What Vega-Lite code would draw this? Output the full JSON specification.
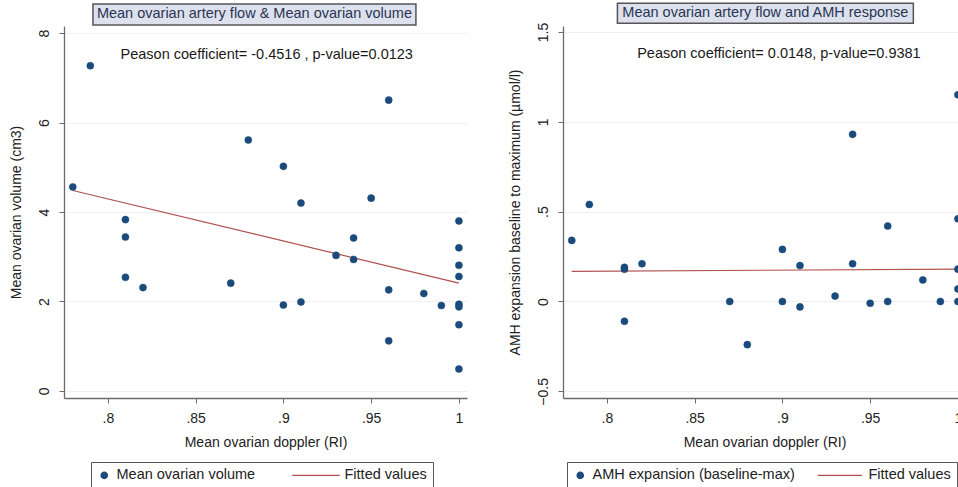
{
  "$schema": "https://vega.github.io/schema/vega-lite/v6.json",
  "background": "white",
  "padding": {"left": 9, "top": 2, "right": 0, "bottom": 0},
  "spacing": 41,
  "datasets": {
    "vol": [
      {"doppler": 0.78, "value": 4.56, "series": "Mean ovarian volume"},
      {"doppler": 0.79, "value": 7.27, "series": "Mean ovarian volume"},
      {"doppler": 0.81, "value": 3.83, "series": "Mean ovarian volume"},
      {"doppler": 0.81, "value": 3.44, "series": "Mean ovarian volume"},
      {"doppler": 0.81, "value": 2.54, "series": "Mean ovarian volume"},
      {"doppler": 0.82, "value": 2.31, "series": "Mean ovarian volume"},
      {"doppler": 0.87, "value": 2.41, "series": "Mean ovarian volume"},
      {"doppler": 0.88, "value": 5.61, "series": "Mean ovarian volume"},
      {"doppler": 0.90, "value": 5.02, "series": "Mean ovarian volume"},
      {"doppler": 0.90, "value": 1.92, "series": "Mean ovarian volume"},
      {"doppler": 0.91, "value": 4.20, "series": "Mean ovarian volume"},
      {"doppler": 0.91, "value": 1.99, "series": "Mean ovarian volume"},
      {"doppler": 0.93, "value": 3.03, "series": "Mean ovarian volume"},
      {"doppler": 0.94, "value": 3.42, "series": "Mean ovarian volume"},
      {"doppler": 0.94, "value": 2.94, "series": "Mean ovarian volume"},
      {"doppler": 0.95, "value": 4.31, "series": "Mean ovarian volume"},
      {"doppler": 0.96, "value": 6.50, "series": "Mean ovarian volume"},
      {"doppler": 0.96, "value": 2.26, "series": "Mean ovarian volume"},
      {"doppler": 0.96, "value": 1.12, "series": "Mean ovarian volume"},
      {"doppler": 0.98, "value": 2.18, "series": "Mean ovarian volume"},
      {"doppler": 0.99, "value": 1.91, "series": "Mean ovarian volume"},
      {"doppler": 1.00, "value": 3.80, "series": "Mean ovarian volume"},
      {"doppler": 1.00, "value": 3.20, "series": "Mean ovarian volume"},
      {"doppler": 1.00, "value": 2.81, "series": "Mean ovarian volume"},
      {"doppler": 1.00, "value": 2.56, "series": "Mean ovarian volume"},
      {"doppler": 1.00, "value": 1.94, "series": "Mean ovarian volume"},
      {"doppler": 1.00, "value": 1.88, "series": "Mean ovarian volume"},
      {"doppler": 1.00, "value": 1.48, "series": "Mean ovarian volume"},
      {"doppler": 1.00, "value": 0.49, "series": "Mean ovarian volume"}
    ],
    "volfit": [
      {"doppler": 0.78, "value": 4.48, "series": "Fitted values"},
      {"doppler": 1.00, "value": 2.41, "series": "Fitted values"}
    ],
    "amh": [
      {"doppler": 0.78, "value": 0.34, "series": "AMH expansion (baseline-max)"},
      {"doppler": 0.79, "value": 0.54, "series": "AMH expansion (baseline-max)"},
      {"doppler": 0.81, "value": 0.19, "series": "AMH expansion (baseline-max)"},
      {"doppler": 0.81, "value": 0.18, "series": "AMH expansion (baseline-max)"},
      {"doppler": 0.81, "value": -0.11, "series": "AMH expansion (baseline-max)"},
      {"doppler": 0.82, "value": 0.21, "series": "AMH expansion (baseline-max)"},
      {"doppler": 0.87, "value": 0.0, "series": "AMH expansion (baseline-max)"},
      {"doppler": 0.88, "value": -0.24, "series": "AMH expansion (baseline-max)"},
      {"doppler": 0.90, "value": 0.29, "series": "AMH expansion (baseline-max)"},
      {"doppler": 0.90, "value": 0.0, "series": "AMH expansion (baseline-max)"},
      {"doppler": 0.91, "value": 0.20, "series": "AMH expansion (baseline-max)"},
      {"doppler": 0.91, "value": -0.03, "series": "AMH expansion (baseline-max)"},
      {"doppler": 0.93, "value": 0.03, "series": "AMH expansion (baseline-max)"},
      {"doppler": 0.94, "value": 0.93, "series": "AMH expansion (baseline-max)"},
      {"doppler": 0.94, "value": 0.21, "series": "AMH expansion (baseline-max)"},
      {"doppler": 0.95, "value": -0.01, "series": "AMH expansion (baseline-max)"},
      {"doppler": 0.96, "value": 0.42, "series": "AMH expansion (baseline-max)"},
      {"doppler": 0.96, "value": 0.0, "series": "AMH expansion (baseline-max)"},
      {"doppler": 0.98, "value": 0.12, "series": "AMH expansion (baseline-max)"},
      {"doppler": 0.99, "value": 0.0, "series": "AMH expansion (baseline-max)"},
      {"doppler": 1.00, "value": 1.15, "series": "AMH expansion (baseline-max)"},
      {"doppler": 1.00, "value": 0.46, "series": "AMH expansion (baseline-max)"},
      {"doppler": 1.00, "value": 0.18, "series": "AMH expansion (baseline-max)"},
      {"doppler": 1.00, "value": 0.07, "series": "AMH expansion (baseline-max)"},
      {"doppler": 1.00, "value": 0.0, "series": "AMH expansion (baseline-max)"}
    ],
    "amhfit": [
      {"doppler": 0.78, "value": 0.168, "series": "Fitted values"},
      {"doppler": 1.00, "value": 0.180, "series": "Fitted values"}
    ]
  },
  "hconcat": [
    {
      "width": 403,
      "height": 372,
      "layer": [
        {
          "data": {"values": [{}]},
          "mark": {"type": "rect", "clip": false, "fill": "#dde1ed", "stroke": "#555555", "strokeWidth": 1.5},
          "encoding": {
            "x": {"datum": 0.7915, "type": "quantitative", "scale": {"domain": [0.775, 1.0046], "nice": false, "zero": false}},
            "x2": {"datum": 0.9755},
            "y": {"datum": 8.65, "type": "quantitative", "scale": {"domain": [-0.157, 8.157], "nice": false, "zero": false}},
            "y2": {"datum": 8.18}
          }
        },
        {
          "data": {"values": [{}]},
          "mark": {"type": "text", "clip": false, "text": "Mean ovarian artery flow & Mean ovarian volume", "font": "Liberation Sans", "fontSize": 14.5, "color": "#2a3552", "align": "center", "baseline": "middle"},
          "encoding": {
            "x": {"datum": 0.8835, "type": "quantitative"},
            "y": {"datum": 8.415, "type": "quantitative"}
          }
        },
        {
          "data": {"values": [{}]},
          "mark": {"type": "text", "text": "Peason coefficient= -0.4516 , p-value=0.0123", "font": "Liberation Sans", "fontSize": 14.5, "color": "#1a1a1a", "align": "center", "baseline": "middle"},
          "encoding": {
            "x": {"datum": 0.8905, "type": "quantitative"},
            "y": {"datum": 7.52, "type": "quantitative"}
          }
        },
        {
          "data": {"name": "volfit"},
          "mark": {"type": "line", "strokeWidth": 1.2},
          "encoding": {
            "x": {"field": "doppler", "type": "quantitative", "scale": {"domain": [0.775, 1.0046], "nice": false, "zero": false},
              "axis": {"values": [0.8, 0.85, 0.9, 0.95, 1], "title": "Mean ovarian doppler (RI)", "grid": false, "labelExpr": "replace(format(datum.value, '~g'), /^(-?)0\\./, '$1.')"}},
            "y": {"field": "value", "type": "quantitative", "scale": {"domain": [-0.157, 8.157], "nice": false, "zero": false},
              "axis": {"values": [0, 2, 4, 6, 8], "title": "Mean ovarian volume (cm3)", "grid": true, "labelAngle": -90}},
            "stroke": {"field": "series", "type": "nominal", "scale": {"domain": ["Mean ovarian volume", "Fitted values"], "range": ["#1b4a7c", "#b0504f"]}}
          }
        },
        {
          "data": {"name": "vol"},
          "mark": {"type": "point", "filled": true, "size": 50, "opacity": 1, "strokeWidth": 0.5},
          "encoding": {
            "x": {"field": "doppler", "type": "quantitative", "scale": {"domain": [0.775, 1.0046], "nice": false, "zero": false}},
            "y": {"field": "value", "type": "quantitative", "scale": {"domain": [-0.157, 8.157], "nice": false, "zero": false}},
            "fill": {"field": "series", "type": "nominal", "scale": {"domain": ["Mean ovarian volume", "Fitted values"], "range": ["#1b4a7c", "#b0504f"]},
              "legend": {"orient": "none", "legendX": 27, "legendY": 436, "direction": "horizontal", "title": null, "columnPadding": 33}},
            "stroke": {"field": "series", "type": "nominal", "scale": {"domain": ["Mean ovarian volume", "Fitted values"], "range": ["#1b4a7c", "#b0504f"]}},
            "shape": {"field": "series", "type": "nominal", "scale": {"domain": ["Mean ovarian volume", "Fitted values"], "range": ["circle", "M-12.65,0H2.35"]}}
          }
        }
      ]
    },
    {
      "width": 403,
      "height": 372,
      "layer": [
        {
          "data": {"values": [{}]},
          "mark": {"type": "rect", "clip": false, "fill": "#dde1ed", "stroke": "#555555", "strokeWidth": 1.5},
          "encoding": {
            "x": {"datum": 0.806, "type": "quantitative", "scale": {"domain": [0.775, 1.0046], "nice": false, "zero": false}},
            "x2": {"datum": 0.9746},
            "y": {"datum": 1.659, "type": "quantitative", "scale": {"domain": [-0.537, 1.533], "nice": false, "zero": false}},
            "y2": {"datum": 1.548}
          }
        },
        {
          "data": {"values": [{}]},
          "mark": {"type": "text", "clip": false, "text": "Mean ovarian artery flow and AMH response", "font": "Liberation Sans", "fontSize": 14.5, "color": "#2a3552", "align": "center", "baseline": "middle"},
          "encoding": {
            "x": {"datum": 0.8903, "type": "quantitative"},
            "y": {"datum": 1.6035, "type": "quantitative"}
          }
        },
        {
          "data": {"values": [{}]},
          "mark": {"type": "text", "text": "Peason coefficient= 0.0148, p-value=0.9381", "font": "Liberation Sans", "fontSize": 14.5, "color": "#1a1a1a", "align": "center", "baseline": "middle"},
          "encoding": {
            "x": {"datum": 0.898, "type": "quantitative"},
            "y": {"datum": 1.375, "type": "quantitative"}
          }
        },
        {
          "data": {"name": "amhfit"},
          "mark": {"type": "line", "strokeWidth": 1.2},
          "encoding": {
            "x": {"field": "doppler", "type": "quantitative", "scale": {"domain": [0.775, 1.0046], "nice": false, "zero": false},
              "axis": {"values": [0.8, 0.85, 0.9, 0.95, 1], "title": "Mean ovarian doppler (RI)", "grid": false, "labelExpr": "replace(format(datum.value, '~g'), /^(-?)0\\./, '$1.')"}},
            "y": {"field": "value", "type": "quantitative", "scale": {"domain": [-0.537, 1.533], "nice": false, "zero": false},
              "axis": {"values": [-0.5, 0, 0.5, 1, 1.5], "title": "AMH expansion baseline to maximum (µmol/l)", "grid": true, "labelAngle": -90, "labelExpr": "replace(format(datum.value, '~g'), /^(-?)0\\./, '$1.')"}},
            "stroke": {"field": "series", "type": "nominal", "scale": {"domain": ["AMH expansion (baseline-max)", "Fitted values"], "range": ["#1b4a7c", "#b0504f"]}}
          }
        },
        {
          "data": {"name": "amh"},
          "mark": {"type": "point", "filled": true, "size": 50, "opacity": 1, "strokeWidth": 0.5},
          "encoding": {
            "x": {"field": "doppler", "type": "quantitative", "scale": {"domain": [0.775, 1.0046], "nice": false, "zero": false}},
            "y": {"field": "value", "type": "quantitative", "scale": {"domain": [-0.537, 1.533], "nice": false, "zero": false}},
            "fill": {"field": "series", "type": "nominal", "scale": {"domain": ["AMH expansion (baseline-max)", "Fitted values"], "range": ["#1b4a7c", "#b0504f"]},
              "legend": {"orient": "none", "legendX": 4, "legendY": 436, "direction": "horizontal", "title": null, "columnPadding": 20}},
            "stroke": {"field": "series", "type": "nominal", "scale": {"domain": ["AMH expansion (baseline-max)", "Fitted values"], "range": ["#1b4a7c", "#b0504f"]}},
            "shape": {"field": "series", "type": "nominal", "scale": {"domain": ["AMH expansion (baseline-max)", "Fitted values"], "range": ["circle", "M-12.2,0H1.8"]}}
          }
        }
      ]
    }
  ],
  "resolve": {
    "scale": {"x": "independent", "y": "independent", "fill": "independent", "stroke": "independent", "shape": "independent"},
    "legend": {"fill": "independent", "stroke": "independent", "shape": "independent"}
  },
  "config": {
    "view": {"stroke": null},
    "font": "Liberation Sans",
    "axis": {
      "domainColor": "#6b6b6b",
      "domainWidth": 1.3,
      "tickColor": "#6b6b6b",
      "tickSize": 5,
      "gridColor": "#eef1f4",
      "gridWidth": 1,
      "labelFont": "Liberation Sans",
      "labelFontSize": 14,
      "labelColor": "#222222",
      "labelPadding": 8,
      "titleFont": "Liberation Sans",
      "titleFontSize": 14,
      "titleFontWeight": "normal",
      "titleColor": "#222222"
    },
    "axisX": {"titlePadding": 10},
    "axisY": {"titlePadding": 14},
    "legend": {
      "fillColor": "white",
      "strokeColor": "#555555",
      "padding": 6,
      "labelFont": "Liberation Sans",
      "labelFontSize": 14.5,
      "labelColor": "#222222",
      "labelLimit": 400,
      "symbolSize": 40,
      "symbolStrokeWidth": 1.3,
      "labelOffset": 5
    }
  }
}
